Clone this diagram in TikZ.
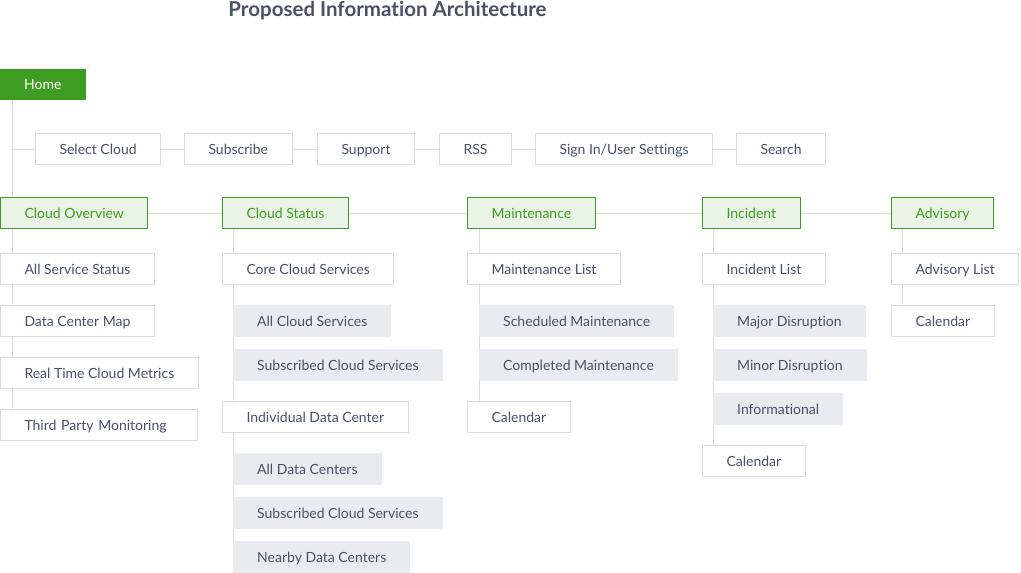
\documentclass[tikz,border=0pt]{standalone}
\usepackage{fontspec}
\setmainfont{Lato}[Ligatures=NoCommon]
\usepackage{tikz}
\usetikzlibrary{backgrounds}
\definecolor{grn}{RGB}{63,156,35}
\definecolor{grnlight}{RGB}{234,244,230}
\definecolor{ink}{RGB}{74,81,103}
\definecolor{boxline}{RGB}{218,219,225}
\definecolor{boxgray}{RGB}{234,235,240}
\definecolor{wire}{RGB}{221,221,224}
\tikzset{
    homebox/.style={
    rectangle,fill=grn,text=white,anchor=north west,minimum height=31pt,inner xsep=24pt,text height=12pt,text depth=2pt,font=\fontsize{14}{16}\selectfont
    },
    section/.style={
    rectangle,draw=grn,fill=grnlight,text=grn,line width=1pt,anchor=north west,minimum height=31pt,inner xsep=24pt,text height=12pt,text depth=2pt,font=\fontsize{14}{16}\selectfont
    },
    page/.style={
    rectangle,draw=boxline,fill=white,text=ink,line width=1pt,anchor=north west,minimum height=31pt,inner xsep=24pt,text height=12pt,text depth=2pt,font=\fontsize{14}{16}\selectfont
    },
    subpage/.style={
    rectangle,fill=boxgray,text=ink,anchor=north west,minimum height=32pt,inner xsep=24pt,text height=12pt,text depth=2pt,font=\fontsize{14}{16}\selectfont
    },
  titletext/.style={text=ink,font=\fontsize{20.5}{22}\selectfont\bfseries},
  link/.style={draw, line width=1pt, wire}
}
\begin{document}
\begin{tikzpicture}[x=1pt,y=-1pt]
    \useasboundingbox (0,0) rectangle (1021,573);

    \node[titletext,anchor=base] (ttl) at (387.5,16) {Proposed Information Architecture};

    \node[homebox] (home) at (0,69) {Home};

    \node[page] (selc) at (35,133) {Select Cloud};
    \node[page] (subs) at (184,133) {Subscribe};
    \node[page] (supp) at (317,133) {Support};
    \node[page] (rss) at (439,133) {RSS};
    \node[page] (sign) at (535,133) {Sign In/User Settings};
    \node[page] (srch) at (736,133) {Search};

    \node[section] (cov) at (0,197) {Cloud Overview};
    \node[section] (cst) at (222,197) {Cloud Status};
    \node[section] (mnt) at (467,197) {Maintenance};
    \node[section] (inc) at (702,197) {Incident};
    \node[section] (adv) at (891,197) {Advisory};

    \node[page] (ass) at (0,253) {All Service Status};
    \node[page] (dcm) at (0,305) {Data Center Map};
    \node[page] (rtm) at (0,357) {Real Time Cloud Metrics};
    \node[page,minimum width=197pt,align=left,text width=149pt] (tpm) at (0,409) {Third Party Monitoring};

    \node[page] (core) at (222,253) {Core Cloud Services};
    \node[subpage] (acs) at (233,305) {All Cloud Services};
    \node[subpage] (scsa) at (233,349) {Subscribed Cloud Services};
    \node[page] (idc) at (222,401) {Individual Data Center};
    \node[subpage] (adc) at (233,453) {All Data Centers};
    \node[subpage] (scsb) at (233,497) {Subscribed Cloud Services};
    \node[subpage] (ndc) at (233,541) {Nearby Data Centers};

    \node[page] (mlist) at (467,253) {Maintenance List};
    \node[subpage] (smnt) at (479,305) {Scheduled Maintenance};
    \node[subpage] (cmnt) at (479,349) {Completed Maintenance};
    \node[page] (mcal) at (467,401) {Calendar};

    \node[page] (ilist) at (702,253) {Incident List};
    \node[subpage] (majd) at (713,305) {Major Disruption};
    \node[subpage] (mind) at (713,349) {Minor Disruption};
    \node[subpage] (info) at (713,393) {Informational};
    \node[page] (ical) at (702,445) {Calendar};

    \node[page] (alist) at (891,253) {Advisory List};
    \node[page] (acal) at (891,305) {Calendar};

    \coordinate (hs) at ([xshift=12pt]home.south west);
    \coordinate (covs) at ([xshift=12pt]cov.south west);
    \coordinate (csts) at ([xshift=11pt]cst.south west);
    \coordinate (mnts) at ([xshift=12pt]mnt.south west);
    \coordinate (incs) at ([xshift=11pt]inc.south west);
    \coordinate (advs) at ([xshift=11pt]adv.south west);

    \begin{scope}[on background layer,every path/.style=link]
      \path (hs) -- (hs |- cov.north);
      \path (hs |- selc.west) -- (selc.west);
      \foreach \a/\b in {selc/subs,subs/supp,supp/rss,rss/sign,sign/srch}
        \path (\a.east) -- (\b.west);
      \foreach \a/\b in {cov/cst,cst/mnt,mnt/inc,inc/adv}
        \path (\a.east) -- (\b.west);

      \path (covs) -- (covs |- tpm.north);
      \path (csts) -- (csts |- ndc.south);
      \path (mnts) -- (mnts |- mcal.north);
      \path (incs) -- (incs |- ical.north);
      \path (advs) -- (advs |- acal.north);
    \end{scope}
\end{tikzpicture}
\end{document}
